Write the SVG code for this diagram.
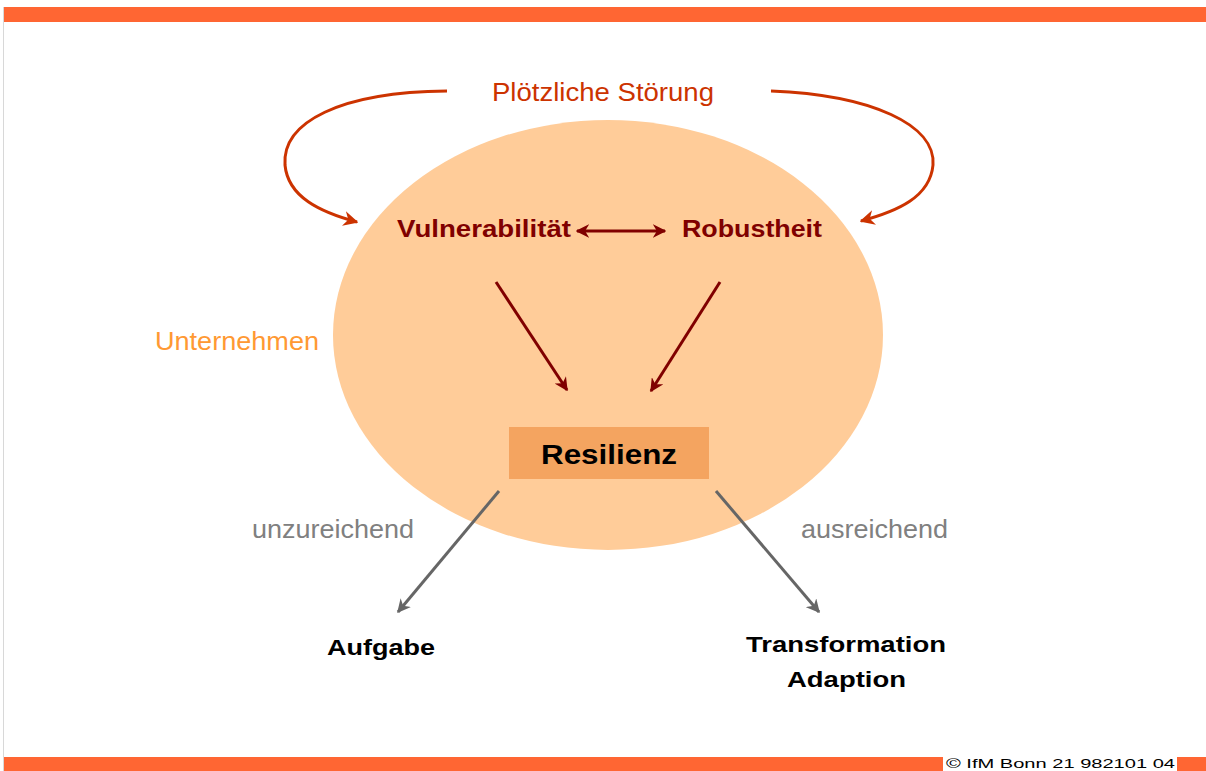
<svg xmlns="http://www.w3.org/2000/svg" width="1206" height="771" viewBox="0 0 1206 771">
<style>
.bar{fill:#FF6633}
.lbl{font-family:"Liberation Sans",Arial,sans-serif}
.bold{font-weight:bold}
.dr{fill:#800000}
.gray{fill:#808080}
</style>
<defs>
<marker id="ahr" viewBox="0 0 10 10" refX="9" refY="5" markerWidth="5" markerHeight="5" orient="auto-start-reverse" markerUnits="strokeWidth"><path d="M0,0 L10,5 L0,10 L3,5 z" fill="#CC3300"/></marker>
<marker id="ahd" viewBox="0 0 10 10" refX="9" refY="5" markerWidth="4.5" markerHeight="4.5" orient="auto-start-reverse" markerUnits="strokeWidth"><path d="M0,0 L10,5 L0,10 L3,5 z" fill="#800000"/></marker>
<marker id="ahg" viewBox="0 0 10 10" refX="9" refY="5" markerWidth="4.5" markerHeight="4.5" orient="auto" markerUnits="strokeWidth"><path d="M0,0 L10,5 L0,10 L3,5 z" fill="#666666"/></marker>
</defs>
<rect width="1206" height="771" fill="#FFFFFF"/>
<line x1="3.5" y1="7" x2="3.5" y2="771" stroke="#D8D8D8" stroke-width="1"/>
<rect class="bar" x="4" y="7" width="1202" height="15"/>
<rect class="bar" x="4" y="757" width="939" height="14"/>
<rect class="bar" x="1177" y="757" width="29" height="14"/>
<text class="lbl" x="946" y="768" font-size="13" fill="#000" textLength="229" lengthAdjust="spacingAndGlyphs">© IfM Bonn 21 982101 04</text>

<g id="unternehmen">
<ellipse cx="608" cy="335" rx="275" ry="215" fill="#FFCC99"/>
<text class="lbl" x="155" y="350" font-size="25" fill="#FF9933" textLength="164" lengthAdjust="spacingAndGlyphs">Unternehmen</text>
</g>
<g id="stoerung"><text class="lbl" x="492" y="101" font-size="26" fill="#CC3300" textLength="222" lengthAdjust="spacingAndGlyphs">Plötzliche Störung</text></g>
<g id="vulnerabilitaet"><text class="lbl bold dr" x="397" y="237" font-size="23" textLength="174" lengthAdjust="spacingAndGlyphs">Vulnerabilität</text></g>
<g id="robustheit"><text class="lbl bold dr" x="682" y="237" font-size="23" textLength="140" lengthAdjust="spacingAndGlyphs">Robustheit</text></g>
<g id="resilienz">
<rect x="509" y="427" width="200" height="52" fill="#F4A460"/>
<text class="lbl bold" x="609" y="464" font-size="27" fill="#000" text-anchor="middle" textLength="136" lengthAdjust="spacingAndGlyphs">Resilienz</text>
</g>
<g id="aufgabe"><text class="lbl bold" x="327" y="655" font-size="22" fill="#000" textLength="108" lengthAdjust="spacingAndGlyphs">Aufgabe</text></g>
<g id="transformation">
<text class="lbl bold" x="746" y="652" font-size="22" fill="#000" textLength="200" lengthAdjust="spacingAndGlyphs">Transformation</text>
<text class="lbl bold" x="787" y="687" font-size="22" fill="#000" textLength="119" lengthAdjust="spacingAndGlyphs">Adaption</text>
</g>

<g id="connectors" fill="none">
<path d="M447,91 C340,92 282,122 285,165 C288,197 320,212 357,222" stroke="#CC3300" stroke-width="3" marker-end="url(#ahr)"/>
<path d="M771,91 C872,95 936,125 933,165 C930,197 898,211 861,221" stroke="#CC3300" stroke-width="3" marker-end="url(#ahr)"/>
<line x1="577" y1="231" x2="665" y2="231" stroke="#800000" stroke-width="3" marker-start="url(#ahd)" marker-end="url(#ahd)"/>
<line x1="496" y1="282" x2="567" y2="390" stroke="#800000" stroke-width="3" marker-end="url(#ahd)"/>
<line x1="720" y1="282" x2="651" y2="391" stroke="#800000" stroke-width="3" marker-end="url(#ahd)"/>
<line x1="499" y1="491" x2="398" y2="612" stroke="#666666" stroke-width="3" marker-end="url(#ahg)"/>
<line x1="716" y1="491" x2="819" y2="612" stroke="#666666" stroke-width="3" marker-end="url(#ahg)"/>
<text class="lbl gray" x="252" y="538" font-size="25" stroke="none" textLength="162" lengthAdjust="spacingAndGlyphs">unzureichend</text>
<text class="lbl gray" x="801" y="538" font-size="25" stroke="none" textLength="147" lengthAdjust="spacingAndGlyphs">ausreichend</text>
</g>
</svg>
